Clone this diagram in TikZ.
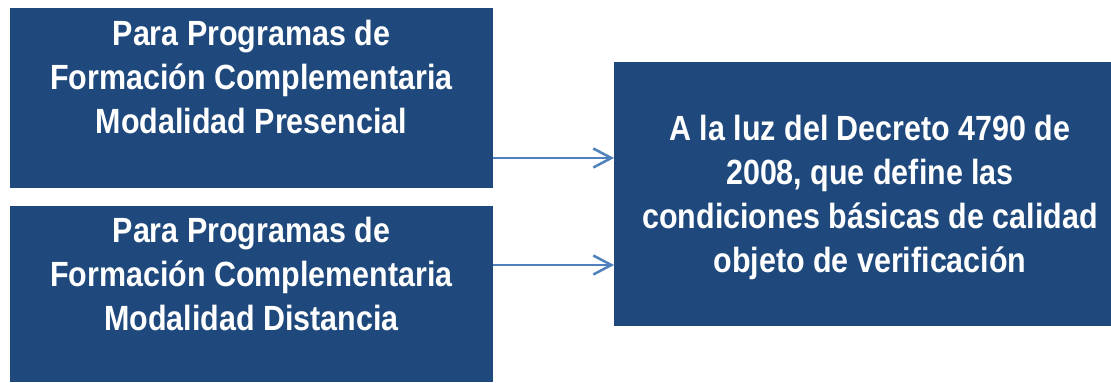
\documentclass[tikz,border=0pt]{standalone}
\usepackage{fontspec}
\setmainfont{Liberation Sans}[FakeStretch=0.87]
\usetikzlibrary{arrows.meta}
\definecolor{boxblue}{RGB}{31,73,125}
\definecolor{arrowblue}{RGB}{79,129,189}
\begin{document}
\begin{tikzpicture}[x=1bp,y=-1bp,
  box/.style={draw=none, fill=boxblue, inner sep=0pt, outer sep=0pt},
  txt/.style={text=white, align=center, inner sep=0pt,
    font=\fontsize{35bp}{44bp}\selectfont\bfseries},
  conn/.style={draw=arrowblue, line width=2.5bp,
    -{Straight Barb[length=18bp, width=19bp]}}]
\useasboundingbox (0,0) rectangle (1111,382);
\fill[white] (0,0) rectangle (1111,382);
% boxes
\node[box, minimum width=483bp, minimum height=180bp] (top) at (251.5,98) {};
\node[box, minimum width=483bp, minimum height=176bp] (bot) at (251.5,294) {};
\node[box, minimum width=497bp, minimum height=264bp] (right) at (862.5,194) {};
% texts
\node[txt] (ttop) at (251.5,77.3) {Para Programas de\\Formación Complementaria\\Modalidad Presencial};
\node[txt] (tbot) at (251.5,273.8) {Para Programas de\\Formación Complementaria\\Modalidad Distancia};
\node[txt] (tright) at (870,197.2) {A la luz del Decreto 4790 de\\2008, que define las\\condiciones básicas de calidad\\objeto de verificación};
% connectors
\coordinate (a1) at (top.east |- 0,158);
\coordinate (a2) at (bot.east |- 0,265);
\draw[conn] (a1) -- (a1 -| right.west);
\draw[conn] (a2) -- (a2 -| right.west);
\end{tikzpicture}
\end{document}
